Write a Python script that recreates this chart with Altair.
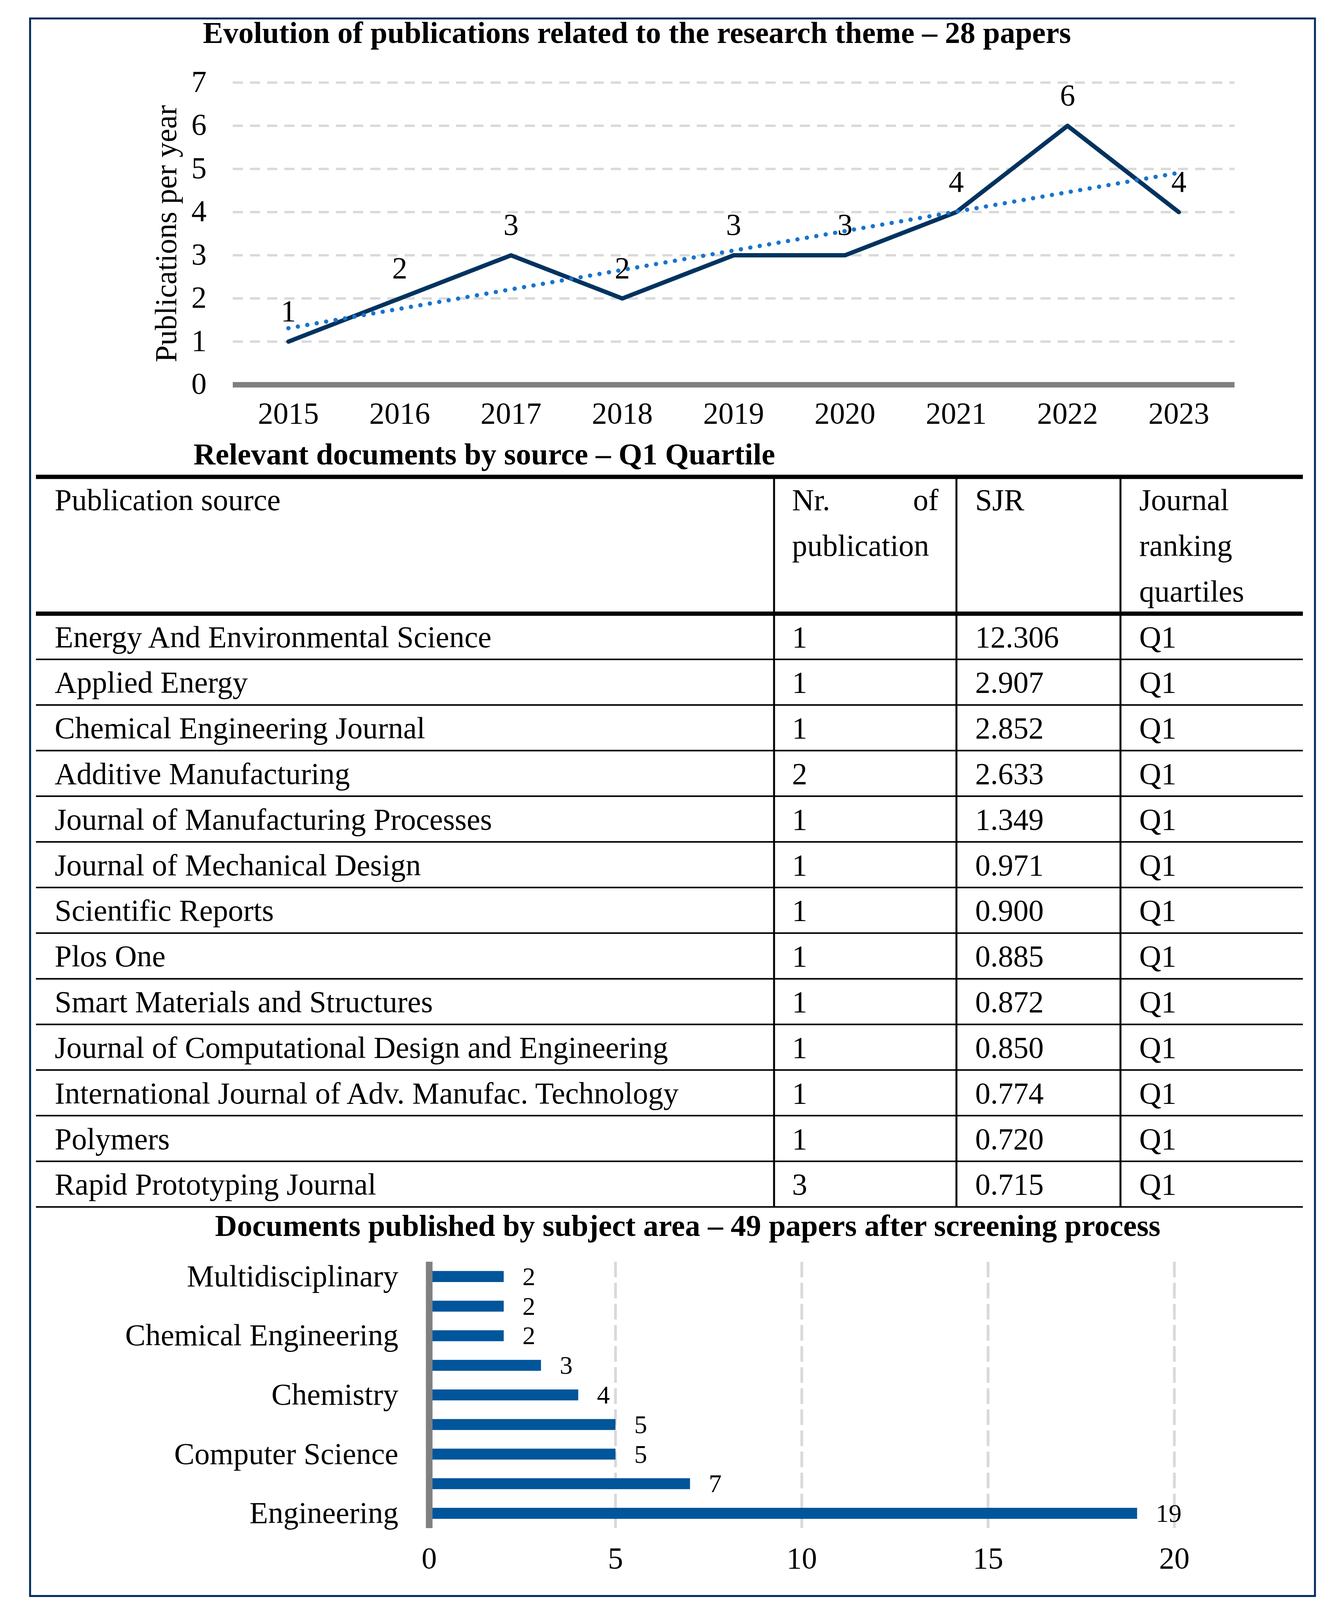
import altair as alt
import pandas as pd

# ------------------------------------------------------------------ data
years = [2015, 2016, 2017, 2018, 2019, 2020, 2021, 2022, 2023]
pubs_per_year = [1, 2, 3, 2, 3, 3, 4, 6, 4]
line_y_ticks = [0, 1, 2, 3, 4, 5, 6, 7]

sources = [
    "Energy And Environmental Science",
    "Applied Energy",
    "Chemical Engineering Journal",
    "Additive Manufacturing",
    "Journal of Manufacturing Processes",
    "Journal of Mechanical Design",
    "Scientific Reports",
    "Plos One",
    "Smart Materials and Structures",
    "Journal of Computational Design and Engineering",
    "International Journal of Adv. Manufac. Technology",
    "Polymers",
    "Rapid Prototyping Journal",
]
n_publications = [1, 1, 1, 2, 1, 1, 1, 1, 1, 1, 1, 1, 3]
sjr_values = ["12.306", "2.907", "2.852", "2.633", "1.349", "0.971", "0.900",
              "0.885", "0.872", "0.850", "0.774", "0.720", "0.715"]
quartiles = ["Q1"] * 13

header_source = ["Publication source"]
header_nr = ["Nr.", "publication"]
header_nr_right = ["of"]
header_sjr = ["SJR"]
header_quartile = ["Journal", "ranking", "quartiles"]

# bar chart categories, top to bottom (the source shows only every other label)
subjects = ["Multidisciplinary", "Unlabelled area A", "Chemical Engineering",
            "Unlabelled area B", "Chemistry", "Unlabelled area C",
            "Computer Science", "Unlabelled area D", "Engineering"]
subject_counts = [2, 2, 2, 3, 4, 5, 5, 7, 19]
labelled_subjects = ["Multidisciplinary", "Chemical Engineering", "Chemistry",
                     "Computer Science", "Engineering"]
bar_x_ticks = [0, 5, 10, 15, 20]

title_line = "Evolution of publications related to the research theme \u2013 28 papers"
title_table = "Relevant documents by source \u2013 Q1 Quartile"
title_bar = "Documents published by subject area \u2013 49 papers after screening process"
y_title_line = "Publications per year"

# ------------------------------------------------------------------ layout
# the photographed area is only about 3426 x 4110 px, so the vertical layout
# of the 3426 x 5651 original is compressed by K to keep everything visible
K = 0.727
W, H = 3410, 4095

def px(v):          # horizontal page pixel -> chart pixel
    return v - 8

def py(v):          # vertical page pixel of the original -> chart pixel
    return v * K - 8

FONT = "Liberation Serif"
FS = 78
FS_BARVAL = 66
CAP_HALF = 26       # half the cap height at FS, for baseline placement
NAVY = "#00335F"
TREND = "#1874CD"
BAR = "#00559B"
GRID = "#D9D9D9"
AXIS_GRAY = "#808080"
BORDER = "#002B5C"

one = pd.DataFrame({"k": [0]})

def text(**kw):
    base = dict(font=FONT, fontSize=FS, color="black")
    base.update(kw)
    return base

# ------------------------------------------------------------------ border & titles
border = alt.Chart(one).mark_rect(filled=False, stroke=BORDER, strokeWidth=5).encode(
    x=alt.value(px(77)), x2=alt.value(px(3367)),
    y=alt.value(py(65)), y2=alt.value(py(5620)))

def title_chart(t, cx, baseline_chart_y):
    return alt.Chart(pd.DataFrame({"t": [t]})).mark_text(
        **text(fontWeight="bold", align="center", baseline="alphabetic")).encode(
        x=alt.value(px(cx)), y=alt.value(baseline_chart_y), text="t:N")

titles = [title_chart(title_line, 1631, 110 - 8),
          title_chart(title_table, 1240, py(1602) + CAP_HALF - 2),
          title_chart(title_bar, 1761, py(4322) + CAP_HALF - 4)]

ytitle = alt.Chart(pd.DataFrame({"t": [y_title_line]})).mark_text(
    **text(align="center", baseline="middle", angle=270)).encode(
    x=alt.value(px(428)), y=alt.value(py(823)), text="t:N")

# ------------------------------------------------------------------ line chart
line_df = pd.DataFrame({"year": years, "pubs": pubs_per_year})
ytick_df = pd.DataFrame({"tick": line_y_ticks})

LX0, LX1 = px(596), px(3161)
xs_line = alt.Scale(type="point", domain=years, range=[LX0, LX1], padding=0.5)
ys_line = alt.Scale(domain=[0, 7], range=[py(1355), py(291)], nice=False, zero=False)
XL = alt.X("year:O", scale=xs_line, axis=None)
YL = alt.Y("pubs:Q", scale=ys_line, axis=None)
YT = alt.Y("tick:Q", scale=ys_line, axis=None)

l_grid = alt.Chart(ytick_df).transform_filter("datum.tick > 0").mark_rule(
    color=GRID, strokeWidth=6, strokeDash=[26, 18]).encode(
    y=YT, x=alt.value(LX0), x2=alt.value(LX1))
l_zero = alt.Chart(ytick_df).transform_filter("datum.tick == 0").mark_rule(
    color=AXIS_GRAY, strokeWidth=14).encode(
    y=YT, x=alt.value(LX0), x2=alt.value(LX1))
l_ylabels = alt.Chart(ytick_df).mark_text(**text(align="right", baseline="middle")).encode(
    y=YT, x=alt.value(px(529)), text="tick:Q")
l_xlabels = alt.Chart(line_df).mark_text(**text(align="center", baseline="middle")).encode(
    x=XL, y=alt.value(py(1460)), text="year:O")
l_line = alt.Chart(line_df).mark_line(
    color=NAVY, strokeWidth=11, strokeJoin="round", strokeCap="round").encode(x=XL, y=YL)
l_values = alt.Chart(line_df).mark_text(
    **text(align="center", baseline="alphabetic", dy=-(108 * K - CAP_HALF))).encode(
    x=XL, y=YL, text="pubs:Q")

line_block = alt.layer(l_grid, l_zero, l_ylabels, l_xlabels, l_line, l_values)

trend_block = alt.Chart(line_df).transform_regression(
    "year", "pubs", method="linear", extent=[2015, 2023]).mark_line(
    color=TREND, strokeWidth=11, strokeDash=[0.1, 24.4], strokeCap="round").encode(
    x=alt.X("year:Q", scale=alt.Scale(domain=[2014.5, 2023.5], range=[LX0, LX1],
                                      nice=False, zero=False), axis=None),
    y=alt.Y("pubs:Q", scale=alt.Scale(domain=[0, 7], range=[py(1355), py(291)],
                                      nice=False, zero=False), axis=None))

# ------------------------------------------------------------------ table
n_header = 3
n_rows = len(sources)
TY0, TY1 = py(1679), py(4250)
ys_table = alt.Scale(domain=[0, n_header + n_rows], range=[TY0, TY1], nice=False, zero=False)
TX0, TX1 = px(92), px(3336)
COL_RULES = [1982, 2449, 2869]
COL_TEXT = [140, 2028, 2497, 2917]
NR_RIGHT = 2403

hl_df = pd.DataFrame({"pos": list(range(0, n_header + n_rows + 1))})
YP = alt.Y("pos:Q", scale=ys_table, axis=None)
t_thick = alt.Chart(hl_df).transform_filter("datum.pos == 0 || datum.pos == 3").mark_rule(
    color="black", strokeWidth=11).encode(y=YP, x=alt.value(TX0), x2=alt.value(TX1))
t_thin = alt.Chart(hl_df).transform_filter("datum.pos > 3").mark_rule(
    color="black", strokeWidth=4).encode(y=YP, x=alt.value(TX0), x2=alt.value(TX1))
t_vert = [alt.Chart(one).mark_rule(color="black", strokeWidth=5).encode(
    x=alt.value(px(cx)), y=alt.value(TY0), y2=alt.value(TY1)) for cx in COL_RULES]

def header_layer(lines, cx, align="left"):
    df = pd.DataFrame({"pos": [i + 0.5 for i in range(len(lines))], "t": lines})
    return alt.Chart(df).mark_text(**text(align=align, baseline="middle", dy=4)).encode(
        y=YP, x=alt.value(px(cx)), text="t:N")

t_headers = [header_layer(header_source, COL_TEXT[0]),
             header_layer(header_nr, COL_TEXT[1]),
             header_layer(header_nr_right, NR_RIGHT, align="right"),
             header_layer(header_sjr, COL_TEXT[2]),
             header_layer(header_quartile, COL_TEXT[3])]

body_df = pd.DataFrame({
    "pos": [n_header + i + 0.5 for i in range(n_rows)],
    "source": sources, "n": n_publications, "sjr": sjr_values, "q": quartiles})
t_body = [alt.Chart(body_df).mark_text(**text(align="left", baseline="middle", dy=4)).encode(
    y=YP, x=alt.value(px(cx)), text=f"{field}:N")
    for cx, field in zip(COL_TEXT, ["source", "n", "sjr", "q"])]

table_block = alt.layer(t_thick, t_thin, *t_vert, *t_headers, *t_body)

# ------------------------------------------------------------------ bar chart
bar_df = pd.DataFrame({"subject": subjects, "count": subject_counts})
xtick_df = pd.DataFrame({"t": bar_x_ticks})
BY0, BY1 = 3230 - 8, 3912 - 8          # plot band (chart pixels)
xs_bar = alt.Scale(domain=[0, 20], range=[px(1099), px(3007)], nice=False, zero=False)
ys_bar = alt.Scale(type="band", domain=subjects, range=[BY0, BY1],
                   paddingInner=0.63, paddingOuter=0.315)
XB = alt.X("count:Q", scale=xs_bar, axis=None)
XBT = alt.X("t:Q", scale=xs_bar, axis=None)
YB = alt.Y("subject:N", scale=ys_bar, axis=None)

b_grid = alt.Chart(xtick_df).transform_filter("datum.t > 0").mark_rule(
    color=GRID, strokeWidth=7, strokeDash=[40, 14]).encode(
    x=XBT, y=alt.value(BY0), y2=alt.value(BY1))
b_bars = alt.Chart(bar_df).mark_bar(color=BAR).encode(x=XB, y=YB)
b_axis = alt.Chart(xtick_df).transform_filter("datum.t == 0").mark_rule(
    color=AXIS_GRAY, strokeWidth=17).encode(
    x=XBT, y=alt.value(BY0), y2=alt.value(BY1))
b_values = alt.Chart(bar_df).mark_text(
    **text(fontSize=FS_BARVAL, align="left", baseline="middle", dx=48, dy=2)).encode(
    x=XB, y=YB, text="count:Q")
b_ylabels = alt.Chart(bar_df).transform_filter(
    alt.FieldOneOfPredicate(field="subject", oneOf=labelled_subjects)).mark_text(
    **text(align="right", baseline="middle", dy=2)).encode(
    y=YB, x=alt.value(px(1020)), text="subject:N")
b_xlabels = alt.Chart(xtick_df).mark_text(**text(align="center", baseline="middle")).encode(
    x=XBT, y=alt.value(BY1 + 80), text="t:Q")

bar_block = alt.layer(b_grid, b_bars, b_axis, b_values, b_ylabels, b_xlabels)

# ------------------------------------------------------------------ assemble
chart = alt.layer(
    border, *titles, ytitle, line_block, trend_block, table_block, bar_block
).resolve_scale(
    x="independent", y="independent"
).properties(
    width=W, height=H, padding=0, autosize="none", background="white"
).configure_view(stroke=None)

chart.save("out.html", embed_options={"renderer": "svg", "actions": False})
